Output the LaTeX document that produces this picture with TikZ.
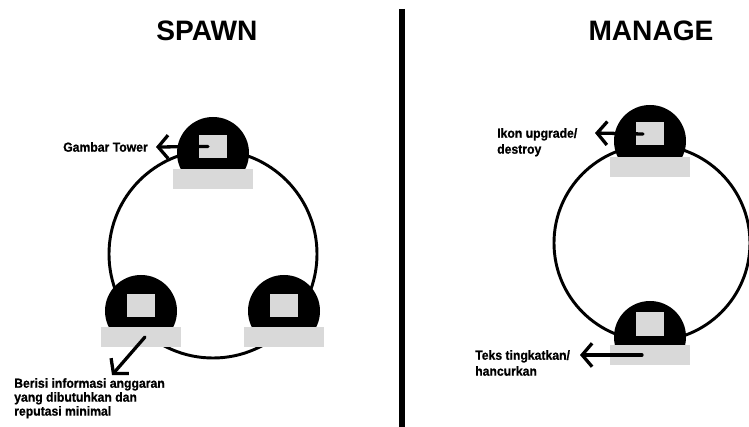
\documentclass[tikz,border=0pt]{standalone}
\usepackage{fontspec}
\setmainfont{Liberation Sans}
\newfontfamily\notefont{Liberation Sans}[FakeStretch=0.93,FakeBold=0.8]
\usetikzlibrary{arrows.meta,positioning}
\definecolor{panel}{HTML}{D9D9D9}
\definecolor{ink}{HTML}{000000}

\begin{document}
\begin{tikzpicture}[x=0.03cm,y=-0.03cm,font=\bfseries,line cap=round,line join=round,
    ring/.style={ink,line width=2.5pt},
    icon/.style={fill=panel,inner sep=0pt,minimum width=0.84cm,minimum height=0.69cm},
    note/.style={ink,inner sep=0pt,align=left,font=\notefont\bfseries\fontsize{11.2}{13.6}\selectfont},
    title/.style={ink,inner sep=0pt,font=\bfseries\fontsize{24}{28}\selectfont},
    pointer/.style={ink,line width=2.8pt,-{Straight Barb[length=8.5pt,width=20pt]}}]
  \useasboundingbox (0,0) rectangle (749,427);

  % Headings and divider
  \node[title] (spawn) at (207,31) {SPAWN};
  \node[title] (manage) at (651,31) {MANAGE};
  \draw[ink,line width=4.3pt,line cap=butt] (402,9) -- (402,427);

  % Rings of slots
  \draw[ring] (213,254) circle[radius=3.12cm];
  \draw[ring] (652,243) circle[radius=2.94cm];

  % Tower slots: dome cut at the base plate, base plate, picture
  \foreach \x/\d/\b/\i/\n in {213/153/169/146.5/sT, 141/311/327/305.5/sL,
      284/311/327/305.5/sR, 650/141/157/134/mT, 650/337/345/324/mB}{
    \begin{scope}
      \clip (\x-50,\b-60) rectangle (\x+50,\b+1);
      \fill[ink] (\x,\d) circle[radius=1.08cm];
    \end{scope}
    \fill[panel] (\x-40,\b) rectangle (\x+40,\b+20);
    \node[icon] (\n) at (\x,\i) {};
  }

  % Spawn callouts
  \coordinate (gtip) at (156,147);
  \node[note,left=0.24cm of gtip] (gambar) {Gambar Tower};
  \draw[pointer] ([xshift=-0.15cm]sT.center) -- (gtip);
  \coordinate (btip) at (112,375);
  \node[note,anchor=north west,font=\notefont\bfseries\fontsize{11.2}{11.9}\selectfont]
    (berisi) at (14,378) {Berisi informasi anggaran\\yang dibutuhkan dan\\reputasi minimal};
  \draw[pointer] ([shift={(4,31.5)}]sL.center) -- (btip);

  % Manage callouts
  \coordinate (itip) at (595,133);
  \node[note,anchor=north west] (ikon) at (497,128) {Ikon upgrade/\\destroy};
  \draw[pointer] ([xshift=-0.21cm]mT.center) -- (itip);
  \coordinate (ttip) at (580,355);
  \node[note,anchor=north west] (teks) at (475,350) {Teks tingkatkan/\\hancurkan};
  \draw[pointer] ([shift={(-8,31)}]mB.center) -- (ttip);
\end{tikzpicture}
\end{document}
